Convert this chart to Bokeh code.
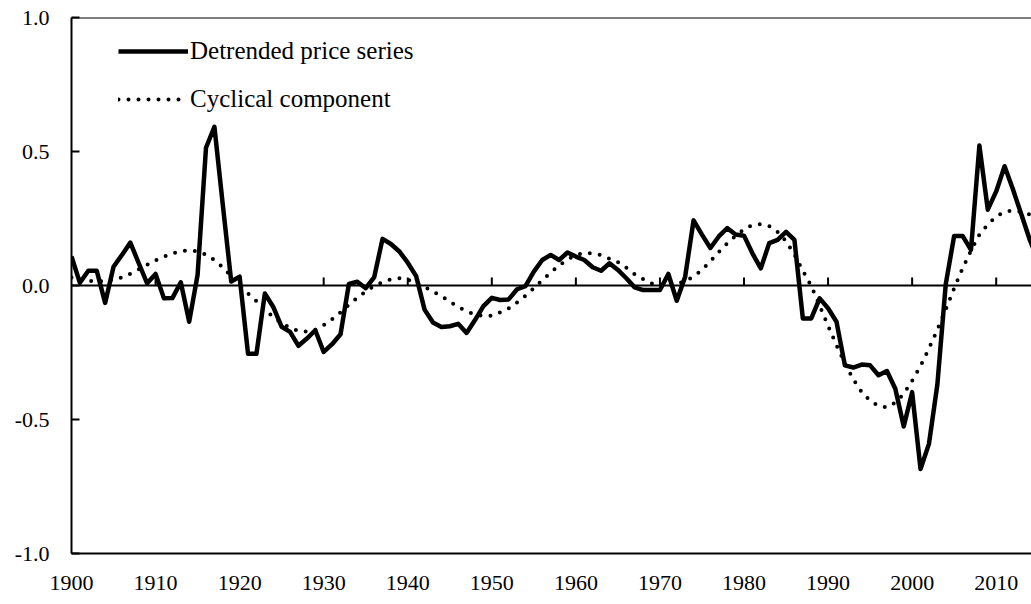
from bokeh.plotting import figure
from bokeh.models import (Range1d, FixedTicker, LinearAxis, Span, Legend, LegendItem,
                          NumeralTickFormatter)
from bokeh.embed import file_html
from bokeh.resources import INLINE

years = list(range(1900, 2016))

detrended = [
    0.108, 0.010, 0.055, 0.055, -0.065, 0.070, 0.114, 0.160, 0.083, 0.008,      # 1900s
    0.043, -0.048, -0.047, 0.012, -0.135, 0.040, 0.514, 0.592, 0.300, 0.015,   # 1910s
    0.033, -0.255, -0.255, -0.030, -0.080, -0.154, -0.173, -0.225, -0.198, -0.167,  # 1920s
    -0.248, -0.219, -0.182, 0.006, 0.014, -0.010, 0.030, 0.174, 0.155, 0.127,  # 1930s
    0.085, 0.035, -0.090, -0.138, -0.155, -0.152, -0.143, -0.177, -0.129, -0.077,  # 1940s
    -0.046, -0.054, -0.052, -0.014, -0.002, 0.052, 0.095, 0.114, 0.095, 0.123,  # 1950s
    0.108, 0.095, 0.068, 0.055, 0.083, 0.058, 0.027, -0.007, -0.017, -0.017,   # 1960s
    -0.017, 0.043, -0.057, 0.033, 0.243, 0.190, 0.140, 0.183, 0.214, 0.190,    # 1970s
    0.186, 0.120, 0.064, 0.158, 0.170, 0.200, 0.170, -0.123, -0.123, -0.048,   # 1980s
    -0.085, -0.135, -0.298, -0.306, -0.295, -0.298, -0.335, -0.319, -0.385, -0.526,  # 1990s
    -0.398, -0.685, -0.591, -0.370, 0.005, 0.185, 0.185, 0.133, 0.522, 0.283,  # 2000s
    0.351, 0.445, 0.358, 0.265, 0.170, 0.090,                                  # 2010s
]

cyclical = [
    0.030, 0.022, 0.018, 0.015, 0.016, 0.022, 0.030, 0.044, 0.060, 0.077,
    0.094, 0.108, 0.120, 0.128, 0.131, 0.127, 0.115, 0.095, 0.068, 0.035,
    0.000, -0.030, -0.058, -0.090, -0.118, -0.140, -0.158, -0.170, -0.172, -0.165,
    -0.148, -0.126, -0.100, -0.072, -0.046, -0.022, -0.002, 0.012, 0.023, 0.027,
    0.022, 0.010, -0.005, -0.022, -0.040, -0.060, -0.080, -0.096, -0.108, -0.114,
    -0.113, -0.100, -0.085, -0.063, -0.038, -0.010, 0.020, 0.048, 0.075, 0.097,
    0.113, 0.122, 0.120, 0.114, 0.100, 0.087, 0.066, 0.042, 0.024, 0.008,
    0.000, -0.003, 0.005, 0.017, 0.033, 0.058, 0.090, 0.125, 0.157, 0.185,
    0.210, 0.226, 0.229, 0.222, 0.200, 0.165, 0.115, 0.055, -0.002, -0.075,
    -0.150, -0.223, -0.290, -0.350, -0.398, -0.430, -0.450, -0.455, -0.437, -0.405,
    -0.355, -0.300, -0.235, -0.165, -0.090, -0.010, 0.064, 0.130, 0.190, 0.228,
    0.258, 0.275, 0.280, 0.275, 0.265, 0.250,
]

x_ticks = [1900, 1910, 1920, 1930, 1940, 1950, 1960, 1970, 1980, 1990, 2000, 2010]
y_ticks = [-1.0, -0.5, 0.0, 0.5, 1.0]
series_labels = ["Detrended price series", "Cyclical component"]

FONT = "Liberation Serif"
TICK_FS = "22px"
LEG_FS = "25px"

p = figure(width=1031, height=604, output_backend="svg", toolbar_location=None,
           x_range=Range1d(1900, 2014.2), y_range=Range1d(-1, 1),
           x_axis_type=None, y_axis_type=None,
           min_border_left=71, min_border_top=17, min_border_right=0, min_border_bottom=51)
p.outline_line_color = None
p.background_fill_color = "white"
p.border_fill_color = "white"

xaxis = LinearAxis(ticker=FixedTicker(ticks=x_ticks),
                   major_tick_in=0, major_tick_out=0, minor_tick_in=0, minor_tick_out=0,
                   axis_line_width=2, axis_line_color="black",
                   major_label_text_font=FONT, major_label_text_font_size=TICK_FS,
                   major_label_text_color="black", major_label_standoff=22)
p.add_layout(xaxis, "below")

yaxis = LinearAxis(ticker=FixedTicker(ticks=y_ticks), formatter=NumeralTickFormatter(format="0.0"),
                   major_tick_in=8, major_tick_out=0, minor_tick_in=0, minor_tick_out=0,
                   major_tick_line_width=2, major_tick_line_color="black",
                   axis_line_width=2, axis_line_color="black",
                   major_label_text_font=FONT, major_label_text_font_size=TICK_FS,
                   major_label_text_color="black", major_label_standoff=22)
p.add_layout(yaxis, "left")

p.add_layout(Span(location=1.0, dimension="width", line_color="black", line_width=2))
p.add_layout(Span(location=0.0, dimension="width", line_color="black", line_width=2))

# tick marks on the zero line
p.segment(x0=x_ticks[1:], y0=[0] * (len(x_ticks) - 1), x1=x_ticks[1:],
          y1=[0.03] * (len(x_ticks) - 1), line_color="black", line_width=2)

r1 = p.line(years, detrended, line_color="black", line_width=4.5, line_join="round")
r2 = p.line(years, cyclical, line_color="black", line_width=4, line_dash="0 10",
            line_cap="round")

legend = Legend(items=[LegendItem(label=series_labels[0], renderers=[r1]),
                       LegendItem(label=series_labels[1], renderers=[r2])],
                location=(47, 440), glyph_width=70, glyph_height=28, label_height=28,
                spacing=20, padding=0, margin=0, label_standoff=2,
                background_fill_alpha=0, border_line_color=None,
                label_text_font=FONT, label_text_font_size=LEG_FS, label_text_color="black")
p.add_layout(legend)

open("out.html", "w").write(file_html(p, INLINE))
